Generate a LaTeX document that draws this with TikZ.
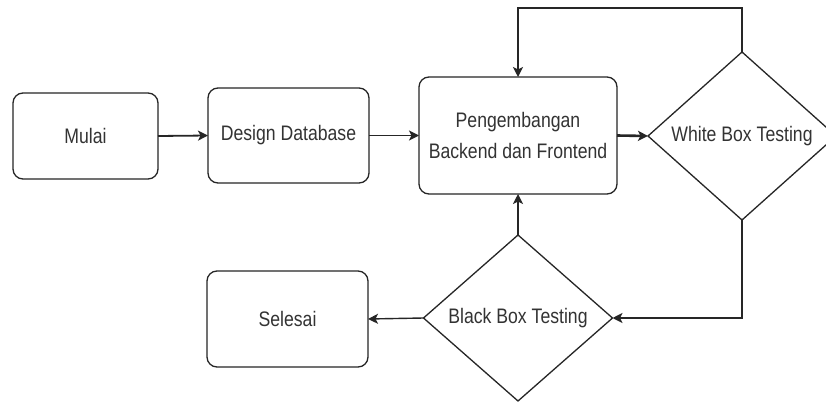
\documentclass[tikz,border=0pt]{standalone}
\usepackage{fontspec}
\setmainfont{Liberation Sans}[FakeStretch=0.84]
\usetikzlibrary{shapes.geometric,arrows.meta}
\definecolor{lineclr}{HTML}{262626}
\definecolor{txtclr}{HTML}{333333}
\begin{document}
\begin{tikzpicture}[x=1pt,y=-1pt,
  every node/.style={font=\fontsize{21}{31}\selectfont, text=txtclr, align=center, inner sep=0pt, outer sep=0pt},
  rbox/.style={draw=lineclr, line width=1.3pt, rounded corners=10pt, fill=white},
  decision/.style={diamond, draw=lineclr, line width=1.3pt, fill=white},
  conn/.style={draw=lineclr, line width=1.4pt, -{Stealth[length=10pt,width=10pt,inset=2.5pt]}}
]
\useasboundingbox (0,0) rectangle (826,401);
\fill[white] (0,0) rectangle (826,401);
\begin{scope}
\clip (0,0) rectangle (826,401);
\node[rbox, minimum width=145pt, minimum height=86pt] (mulai) at (85.5,136) {Mulai};
\node[rbox, minimum width=161pt, minimum height=95pt] (design) at (288.5,135.5) {Design Database};
\node[rbox, minimum width=198pt, minimum height=117pt] (dev) at (518,135.5) {Pengembangan\\Backend dan Frontend};
\node[decision, minimum width=188pt, minimum height=168pt] (wb) at (742,136) {White Box Testing};
\node[decision, minimum width=189pt, minimum height=166pt] (bb) at (518,318) {Black Box Testing};
\node[rbox, minimum width=161pt, minimum height=96pt] (selesai) at (287.5,319) {Selesai};
\coordinate (loop) at (742,8);

\draw[conn, line width=1.8pt] (mulai.east) -- (design.west);
\draw[conn, line width=1.8pt] (design.east) -- (dev.west);
\draw[conn, line width=2.6pt] (dev.east) -- (wb.west);
\draw[conn] (wb.north) -- (loop) -| (dev.north);
\draw[conn] (wb.south) |- (bb.east);
\draw[conn] (bb.north) -- (dev.south);
\draw[conn] (bb.west) -- (selesai.east);
\end{scope}
\end{tikzpicture}
\end{document}
